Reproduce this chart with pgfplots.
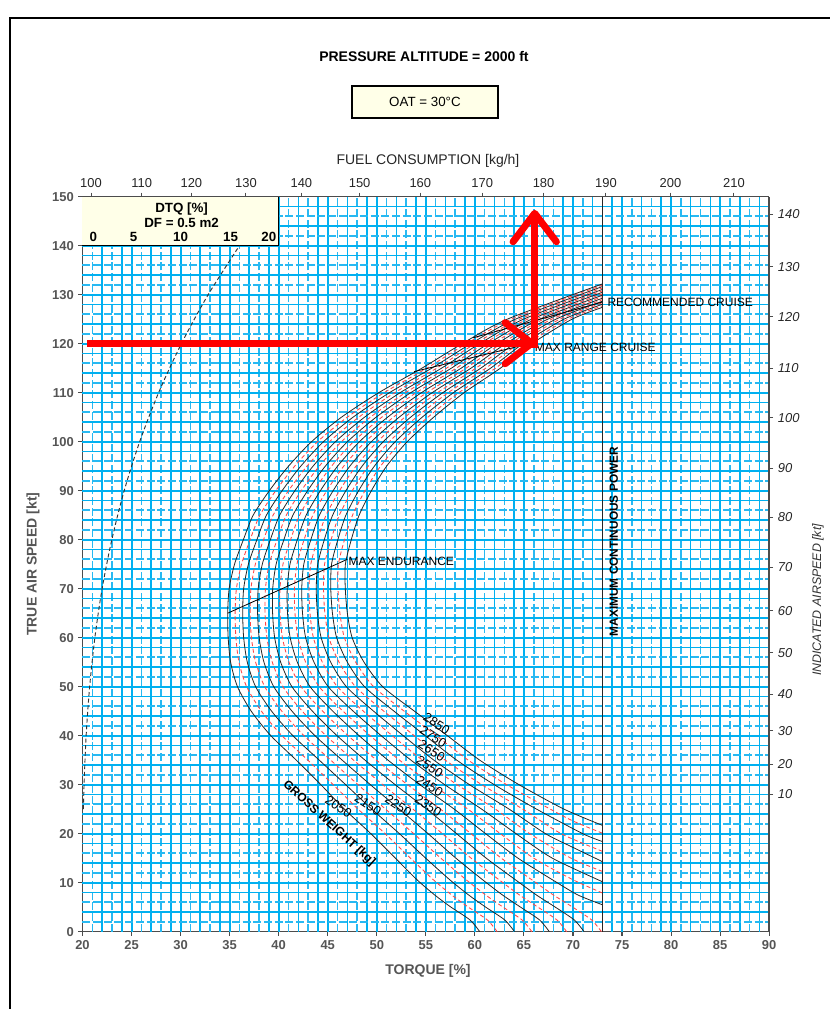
\documentclass[border=0pt]{standalone}
\usepackage{fontspec}
\setmainfont{Liberation Sans}
\usepackage{pgfplots}
\pgfplotsset{compat=1.18}
\definecolor{gridc}{RGB}{0,176,240}
\definecolor{gridl}{RGB}{40,185,242}
\definecolor{boxfill}{RGB}{255,255,232}
\definecolor{tgray}{RGB}{85,85,85}
\definecolor{cred}{RGB}{255,70,70}
\definecolor{arrowred}{RGB}{255,0,0}
\begin{document}
\begin{tikzpicture}[
  bc/.style={black!85, line width=0.6pt, smooth, tension=0.45},
  rc/.style={cred, line width=0.65pt, dash pattern=on 3pt off 2pt, smooth, tension=0.45},
  gmaj/.style={gridc, line width=1.5pt},
  gsol/.style={gridc, line width=1.2pt},
  gdash/.style={gridl, line width=1.2pt, dash pattern=on 6pt off 2pt},
]
\useasboundingbox (-61.875pt,-57.975pt) rectangle (559.875pt,698.775pt);
\begin{axis}[
  at={(0,0)}, anchor=south west,
  scale only axis, width=515pt, height=551.25pt,
  xmin=20, xmax=90, ymin=0, ymax=150,
  axis x line*=bottom, axis y line*=left,
  axis line style={black!70, line width=1pt, -},
  xtick={20,25,...,90}, ytick={0,10,...,150},
  tick align=outside, major tick length=3pt,
  tick style={black!70, line width=0.8pt},
  /pgf/number format/assume math mode=true,
  xticklabel style={font=\fontsize{9.7}{11}\selectfont\bfseries, text=tgray},
  yticklabel style={font=\fontsize{9.7}{11}\selectfont\bfseries, text=tgray},
  clip=false,
]
% grid
\pgfplotsinvokeforeach{21,23,26,28,31,33,36,38,41,43,46,48,51,53,56,58,61,63,66,68,71,73,76,78,81,83,86,88}{\draw[gdash] (axis cs:#1,0) -- (axis cs:#1,150);}
\pgfplotsinvokeforeach{22,24,27,29,32,34,37,39,42,44,47,49,52,54,57,59,62,64,67,69,72,74,77,79,82,84,87,89}{\draw[gsol] (axis cs:#1,0) -- (axis cs:#1,150);}
\pgfplotsinvokeforeach{25,30,35,40,45,50,55,60,65,70,75,80,85}{\draw[gmaj] (axis cs:#1,0) -- (axis cs:#1,150);}
\pgfplotsinvokeforeach{2,6,12,16,22,26,32,36,42,46,52,56,62,66,72,76,82,86,92,96,102,106,112,116,122,126,132,136,142,146}{\draw[gdash] (axis cs:20,#1) -- (axis cs:90,#1);}
\pgfplotsinvokeforeach{4,8,14,18,24,28,34,38,44,48,54,58,64,68,74,78,84,88,94,98,104,108,114,118,124,128,134,138,144,148}{\draw[gsol] (axis cs:20,#1) -- (axis cs:90,#1);}
\pgfplotsinvokeforeach{10,20,30,40,50,60,70,80,90,100,110,120,130,140}{\draw[gmaj] (axis cs:20,#1) -- (axis cs:90,#1);}
% DTQ box
\fill[boxfill] (axis cs:20,140) rectangle (axis cs:40,150);
\draw[black, line width=1pt] (axis cs:20,140) -- (axis cs:40,140) -- (axis cs:40,150);
\node[font=\fontsize{10}{12}\selectfont\bfseries] at (axis cs:30.1,147.5) {DTQ [\%]};
\node[font=\fontsize{10}{12}\selectfont\bfseries] at (axis cs:30.1,144.6) {DF = 0.5 m2};
\node[font=\fontsize{10}{12}\selectfont\bfseries] at (axis cs:21.1,141.8) {0};
\node[font=\fontsize{10}{12}\selectfont\bfseries] at (axis cs:25.2,141.8) {5};
\node[font=\fontsize{10}{12}\selectfont\bfseries] at (axis cs:30.0,141.8) {10};
\node[font=\fontsize{10}{12}\selectfont\bfseries] at (axis cs:35.1,141.8) {15};
\node[font=\fontsize{10}{12}\selectfont\bfseries] at (axis cs:39.0,141.8) {20};
% DTQ curve
\addplot[black!80, line width=0.7pt, dash pattern=on 3pt off 2pt, smooth] coordinates {(20.09,25) (20.16,30) (20.37,40) (20.73,50) (21.26,60) (22.0,70) (22.99,80) (24.25,90) (25.83,100) (27.76,110) (30.08,120) (32.81,130) (36.0,140)};
% red dashed intermediate weights
\addplot[rc] coordinates {(62.27,0) (61.27,2.4) (59.27,5.1) (57.63,7.5) (55.77,10.6) (53.44,15) (50.86,20) (48.1,25) (45.56,30) (42.97,35) (40.33,40) (38.24,45) (36.73,50) (35.95,55) (35.64,60) (35.56,65) (35.69,70) (36.21,75) (37.09,80) (38.08,85) (39.7,90) (41.63,95) (43.96,100) (46.99,105) (50.74,110) (55.1,115) (59.14,120) (63.71,125) (73,131.95)};
\addplot[rc] coordinates {(65.81,0) (64.81,2.4) (62.81,5.1) (61.09,7.5) (59.11,10.6) (56.53,15) (53.77,20) (50.9,25) (48.09,30) (45.31,35) (42.58,40) (40.32,45) (38.58,50) (37.65,55) (37.22,60) (37.09,65) (37.17,70) (37.62,75) (38.46,80) (39.43,85) (41.0,90) (42.88,95) (45.18,100) (48.16,105) (51.83,110) (56.1,115) (60.03,120) (64.54,125) (73,131.37)};
\addplot[rc] coordinates {(69.36,0) (68.36,2.4) (66.36,5.1) (64.54,7.5) (62.46,10.6) (59.62,15) (56.69,20) (53.7,25) (50.61,30) (47.64,35) (44.83,40) (42.4,45) (40.43,50) (39.35,55) (38.8,60) (38.61,65) (38.65,70) (39.03,75) (39.84,80) (40.78,85) (42.3,90) (44.13,95) (46.4,100) (49.34,105) (52.92,110) (57.1,115) (60.92,120) (65.36,125) (73,130.78)};
\addplot[rc] coordinates {(72.9,0) (71.9,2.4) (69.9,5.1) (68.0,7.5) (65.8,10.6) (62.7,15) (59.6,20) (56.5,25) (53.14,30) (49.98,35) (47.08,40) (44.48,45) (42.28,50) (41.05,55) (40.38,60) (40.14,65) (40.13,70) (40.44,75) (41.21,80) (42.13,85) (43.6,90) (45.38,95) (47.62,100) (50.51,105) (54.01,110) (58.1,115) (61.81,120) (66.19,125) (73,130.18)};
\addplot[rc] coordinates {(73,7.9) (70.0,10.6) (66.0,15) (62.6,20) (59.3,25) (55.66,30) (52.32,35) (49.33,40) (46.56,45) (44.13,50) (42.75,55) (41.96,60) (41.66,65) (41.61,70) (41.86,75) (42.59,80) (43.48,85) (44.9,90) (46.63,95) (48.84,100) (51.69,105) (55.09,110) (59.1,115) (62.69,120) (67.01,125) (73,129.59)};
\addplot[rc] coordinates {(73,12.3) (69.8,15) (65.6,20) (62.1,25) (58.19,30) (54.66,35) (51.58,40) (48.64,45) (45.98,50) (44.45,55) (43.54,60) (43.19,65) (43.09,70) (43.27,75) (43.96,80) (44.83,85) (46.2,90) (47.88,95) (50.05,100) (52.86,105) (56.18,110) (60.1,115) (63.58,120) (67.84,125) (73,128.98)};
\addplot[rc] coordinates {(73,16.4) (68.8,20) (64.9,25) (60.71,30) (56.99,35) (53.83,40) (50.72,45) (47.83,50) (46.15,55) (45.12,60) (44.71,65) (44.57,70) (44.68,75) (45.34,80) (46.18,85) (47.5,90) (49.13,95) (51.27,100) (54.04,105) (57.27,110) (61.1,115) (64.47,120) (68.66,125) (73,128.36)};
\addplot[rc] coordinates {(73,20.1) (70.1,22.5) (67.7,25) (63.24,30) (59.33,35) (56.08,40) (52.8,45) (49.68,50) (47.85,55) (46.7,60) (46.24,65) (46.05,70) (46.09,75) (46.71,80) (47.53,85) (48.8,90) (50.38,95) (52.49,100) (55.21,105) (58.36,110) (62.1,115) (65.36,120) (69.49,125) (73,127.73)};
% black gross weight curves 2050 ... 2850
\addplot[bc] coordinates {(60.5,0) (59.5,2.4) (57.5,5.1) (55.9,7.5) (54.1,10.6) (51.9,15) (49.4,20) (46.7,25) (44.3,30) (41.8,35) (39.2,40) (37.2,45) (35.8,50) (35.1,55) (34.85,60) (34.8,65) (34.95,70) (35.5,75) (36.4,80) (37.4,85) (39.05,90) (41.0,95) (43.35,100) (46.4,105) (50.2,110) (54.6,115) (58.7,120) (63.3,125) (73,132.2)};
\addplot[bc] coordinates {(64.04,0) (63.04,2.4) (61.04,5.1) (59.36,7.5) (57.44,10.6) (54.99,15) (52.31,20) (49.5,25) (46.83,30) (44.14,35) (41.45,40) (39.28,45) (37.65,50) (36.8,55) (36.43,60) (36.33,65) (36.43,70) (36.91,75) (37.78,80) (38.75,85) (40.35,90) (42.25,95) (44.57,100) (47.58,105) (51.29,110) (55.6,115) (59.59,120) (64.13,125) (73,131.66)};
\addplot[bc] coordinates {(67.59,0) (66.59,2.4) (64.59,5.1) (62.81,7.5) (60.79,10.6) (58.07,15) (55.23,20) (52.3,25) (49.35,30) (46.48,35) (43.7,40) (41.36,45) (39.5,50) (38.5,55) (38.01,60) (37.85,65) (37.91,70) (38.33,75) (39.15,80) (40.1,85) (41.65,90) (43.5,95) (45.79,100) (48.75,105) (52.38,110) (56.6,115) (60.48,120) (64.95,125) (73,131.07)};
\addplot[bc] coordinates {(71.13,0) (70.13,2.4) (68.13,5.1) (66.27,7.5) (64.13,10.6) (61.16,15) (58.14,20) (55.1,25) (51.88,30) (48.81,35) (45.95,40) (43.44,45) (41.35,50) (40.2,55) (39.59,60) (39.38,65) (39.39,70) (39.74,75) (40.53,80) (41.45,85) (42.95,90) (44.75,95) (47.01,100) (49.93,105) (53.46,110) (57.6,115) (61.36,120) (65.78,125) (73,130.49)};
\addplot[bc] coordinates {(73,5.5) (70.5,7.5) (67.9,10.6) (64.4,15) (61.1,20) (57.9,25) (54.4,30) (51.15,35) (48.2,40) (45.52,45) (43.2,50) (41.9,55) (41.17,60) (40.9,65) (40.87,70) (41.15,75) (41.9,80) (42.8,85) (44.25,90) (46.0,95) (48.23,100) (51.1,105) (54.55,110) (58.6,115) (62.25,120) (66.6,125) (73,129.89)};
\addplot[bc] coordinates {(73,10.2) (67.9,15) (64.2,20) (60.7,25) (56.93,30) (53.49,35) (50.45,40) (47.6,45) (45.05,50) (43.6,55) (42.75,60) (42.43,65) (42.35,70) (42.56,75) (43.28,80) (44.15,85) (45.55,90) (47.25,95) (49.45,100) (52.28,105) (55.64,110) (59.6,115) (63.14,120) (67.43,125) (73,129.28)};
\addplot[bc] coordinates {(73,14.3) (70.0,17.2) (67.2,20) (63.5,25) (59.45,30) (55.83,35) (52.7,40) (49.68,45) (46.9,50) (45.3,55) (44.33,60) (43.95,65) (43.83,70) (43.98,75) (44.65,80) (45.5,85) (46.85,90) (48.5,95) (50.66,100) (53.45,105) (56.73,110) (60.6,115) (64.03,120) (68.25,125) (73,128.67)};
\addplot[bc] coordinates {(73,18.4) (71.0,20) (66.3,25) (61.98,30) (58.16,35) (54.95,40) (51.76,45) (48.75,50) (47.0,55) (45.91,60) (45.48,65) (45.31,70) (45.39,75) (46.03,80) (46.85,85) (48.15,90) (49.75,95) (51.88,100) (54.63,105) (57.81,110) (61.6,115) (64.91,120) (69.08,125) (73,128.05)};
\addplot[bc] coordinates {(73,21.7) (69.1,25) (64.5,30) (60.5,35) (57.2,40) (53.84,45) (50.6,50) (48.7,55) (47.49,60) (47.0,65) (46.79,70) (46.8,75) (47.4,80) (48.2,85) (49.45,90) (51.0,95) (53.1,100) (55.8,105) (58.9,110) (62.6,115) (65.8,120) (69.9,125) (73,127.42)};
% cruise / endurance lines
\addplot[black, line width=0.6pt] coordinates {(34.8,65) (47.0,76)};
\addplot[black, line width=0.6pt] coordinates {(53.8,114.3) (66.0,120.2)};
\addplot[black, line width=0.6pt] coordinates {(59.8,121.2) (73,128.5)};
% maximum continuous power
\addplot[black!85, line width=1.3pt] coordinates {(73,0) (73,150)};
\node[anchor=west, inner sep=0pt, font=\fontsize{9}{11}\selectfont] at (axis cs:47.1,75.6) {MAX ENDURANCE};
\node[anchor=west, inner sep=0pt, font=\fontsize{9}{11}\selectfont] at (axis cs:66.1,119.3) {MAX RANGE CRUISE};
\node[anchor=west, inner sep=0pt, font=\fontsize{9}{11}\selectfont] at (axis cs:73.5,128.4) {RECOMMENDED CRUISE};
\node[rotate=90, inner sep=0pt, font=\fontsize{8.9}{11}\selectfont\bfseries] at (axis cs:74.15,79.6) {MAXIMUM CONTINUOUS POWER};
% weight labels
\node[rotate=-33, inner sep=0pt, font=\fontsize{9.6}{10}\selectfont] at (axis cs:46.1,25.5) {2050};
\node[rotate=-33, inner sep=0pt, font=\fontsize{9.6}{10}\selectfont] at (axis cs:49.1,25.9) {2150};
\node[rotate=-33, inner sep=0pt, font=\fontsize{9.6}{10}\selectfont] at (axis cs:52.2,25.7) {2250};
\node[rotate=-33, inner sep=0pt, font=\fontsize{9.6}{10}\selectfont] at (axis cs:55.25,25.7) {2350};
\node[rotate=-33, inner sep=0pt, font=\fontsize{9.6}{10}\selectfont] at (axis cs:55.4,29.7) {2450};
\node[rotate=-33, inner sep=0pt, font=\fontsize{9.6}{10}\selectfont] at (axis cs:55.4,33.7) {2550};
\node[rotate=-33, inner sep=0pt, font=\fontsize{9.6}{10}\selectfont] at (axis cs:55.6,36.9) {2650};
\node[rotate=-33, inner sep=0pt, font=\fontsize{9.6}{10}\selectfont] at (axis cs:55.75,39.8) {2750};
\node[rotate=-33, inner sep=0pt, font=\fontsize{9.6}{10}\selectfont] at (axis cs:56.1,42.5) {2850};
\node[rotate=-42.3, inner sep=0pt, font=\fontsize{9}{11}\selectfont\bfseries] at (axis cs:45.13,22.1) {GROSS WEIGHT [kg]};
% red arrows
\addplot[arrowred, line width=5.2pt] coordinates {(20.5,120.1) (65.6,120.1)};
\addplot[arrowred, line width=5.2pt, line cap=round, line join=round] coordinates {(63.08,124.3) (65.8,120.1) (63.08,115.9)};
\addplot[arrowred, line width=5.2pt] coordinates {(66.1,119.2) (66.1,146.2)};
\addplot[arrowred, line width=5.2pt, line cap=round, line join=round] coordinates {(63.89,140.8) (66.1,146.6) (68.31,140.8)};
% texts outside plot area
\node[font=\fontsize{10.5}{12}\selectfont\bfseries] at (axis cs:54.81,178.7) {PRESSURE ALTITUDE = 2000 ft};
\node[draw=black, line width=1pt, fill=boxfill, minimum width=109.5pt, minimum height=24pt, font=\fontsize{10}{12}\selectfont] at (axis cs:54.91,169.3) {OAT = 30°C};
\node[font=\fontsize{10.5}{12}\selectfont, text=black!85] at (axis cs:55.22,157.3) {FUEL CONSUMPTION [kg/h]};
\node[font=\fontsize{10.5}{12}\selectfont\bfseries, text=tgray] at (axis cs:55.22,-8.0) {TORQUE [\%]};
\node[rotate=90, font=\fontsize{10.5}{12}\selectfont\bfseries, text=tgray] at (axis cs:14.95,75) {TRUE AIR SPEED [kt]};
\node[rotate=90, font=\fontsize{9.3}{11}\selectfont\itshape, text=black!80] at (axis cs:94.96,67.7) {INDICATED AIRSPEED [kt]};
% outer frame
\draw[black, line width=1.5pt] (axis cs:12.61,-17) -- (axis cs:12.61,186.47) -- (axis cs:97,186.47);
\end{axis}
\begin{axis}[
  at={(0,0)}, anchor=south west,
  scale only axis, width=515pt, height=551.25pt,
  xmin=20, xmax=90, ymin=0, ymax=150,
  axis x line*=top, axis y line*=right,
  axis line style={black!70, line width=1pt, -},
  xtick={20.87,26.03,31.10,36.66,42.31,48.25,54.44,60.75,67.0,73.36,79.94,86.41},
  xticklabels={100,110,120,130,140,150,160,170,180,190,200,210},
  ytick={28.0,34.2,41.0,48.5,56.9,65.5,74.4,84.6,94.6,104.9,115.0,125.5,135.7,146.4},
  yticklabels={10,20,30,40,50,60,70,80,90,100,110,120,130,140},
  tick align=outside, major tick length=3pt,
  tick style={black!70, line width=0.8pt},
  xticklabel style={font=\fontsize{9.7}{11}\selectfont, text=black!85},
  yticklabel style={font=\fontsize{9.7}{11}\selectfont\itshape, text=black!85},
]
\end{axis}
\end{tikzpicture}
\end{document}
